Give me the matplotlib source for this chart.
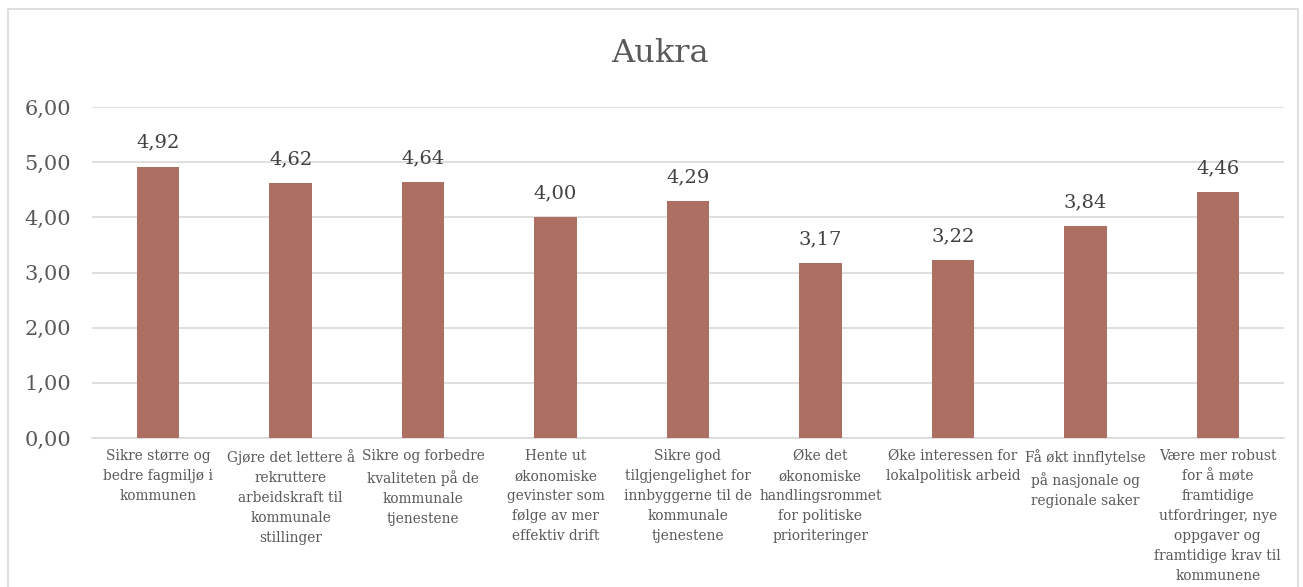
import matplotlib.pyplot as plt
from matplotlib.patches import Rectangle

categories = [
    'Sikre større og\nbedre fagmiljø i\nkommunen',
    'Gjøre det lettere å\nrekruttere\narbeidskraft til\nkommunale\nstillinger',
    'Sikre og forbedre\nkvaliteten på de\nkommunale\ntjenestene',
    'Hente ut\nøkonomiske\ngevinster som\nfølge av mer\neffektiv drift',
    'Sikre god\ntilgjengelighet for\ninnbyggerne til de\nkommunale\ntjenestene',
    'Øke det\nøkonomiske\nhandlingsrommet\nfor politiske\nprioriteringer',
    'Øke interessen for\nlokalpolitisk arbeid',
    'Få økt innflytelse\npå nasjonale og\nregionale saker',
    'Være mer robust\nfor å møte\nframtidige\nutfordringer, nye\noppgaver og\nframtidige krav til\nkommunene',
]
values = [4.92, 4.62, 4.64, 4.00, 4.29, 3.17, 3.22, 3.84, 4.46]
yticks = [0, 1, 2, 3, 4, 5, 6]

text_color = '#595959'
plt.rcParams['font.family'] = ['DejaVu Serif']

fig = plt.figure(figsize=(13.03, 5.87), dpi=100)
fig.patches.append(Rectangle((8 / 1303, -0.01), 1290 / 1303, 1 - 9 / 587 + 0.01,
                             transform=fig.transFigure, fill=False,
                             edgecolor='#d9d9d9', linewidth=1.2))
ax = fig.add_axes([92 / 1303, 1 - 438 / 587, 1192 / 1303, 331 / 587])

x = range(len(values))
bars = ax.bar(x, values, width=0.32, color='#AE6F63', zorder=3)
for xi, v in zip(x, values):
    ax.text(xi, v + 0.27, f'{v:.2f}'.replace('.', ','), ha='center', va='bottom',
            fontsize=14, color='#404040')

ax.set_ylim(0, 6)
ax.set_xlim(-0.5, len(values) - 0.5)
ax.set_yticks(yticks)
ax.set_yticklabels([f'{t:.2f}'.replace('.', ',') for t in yticks], fontsize=15, color=text_color)
ax.set_xticks(list(x))
ax.set_xticklabels(categories, fontsize=9.9, color=text_color, linespacing=1.55, va='top')
ax.tick_params(axis='both', length=0)
ax.tick_params(axis='y', pad=15)
ax.tick_params(axis='x', pad=8)
ax.grid(axis='y', color='#d9d9d9', linewidth=1.2, zorder=0)
for s in ['top', 'right', 'left']:
    ax.spines[s].set_visible(False)
ax.spines['bottom'].set_color('#d9d9d9')
ax.spines['bottom'].set_linewidth(1.2)

fig.text(660 / 1303, 1 - 53 / 587, 'Aukra', ha='center', va='center', fontsize=23, color=text_color)

fig.savefig('out.png', dpi=100)
